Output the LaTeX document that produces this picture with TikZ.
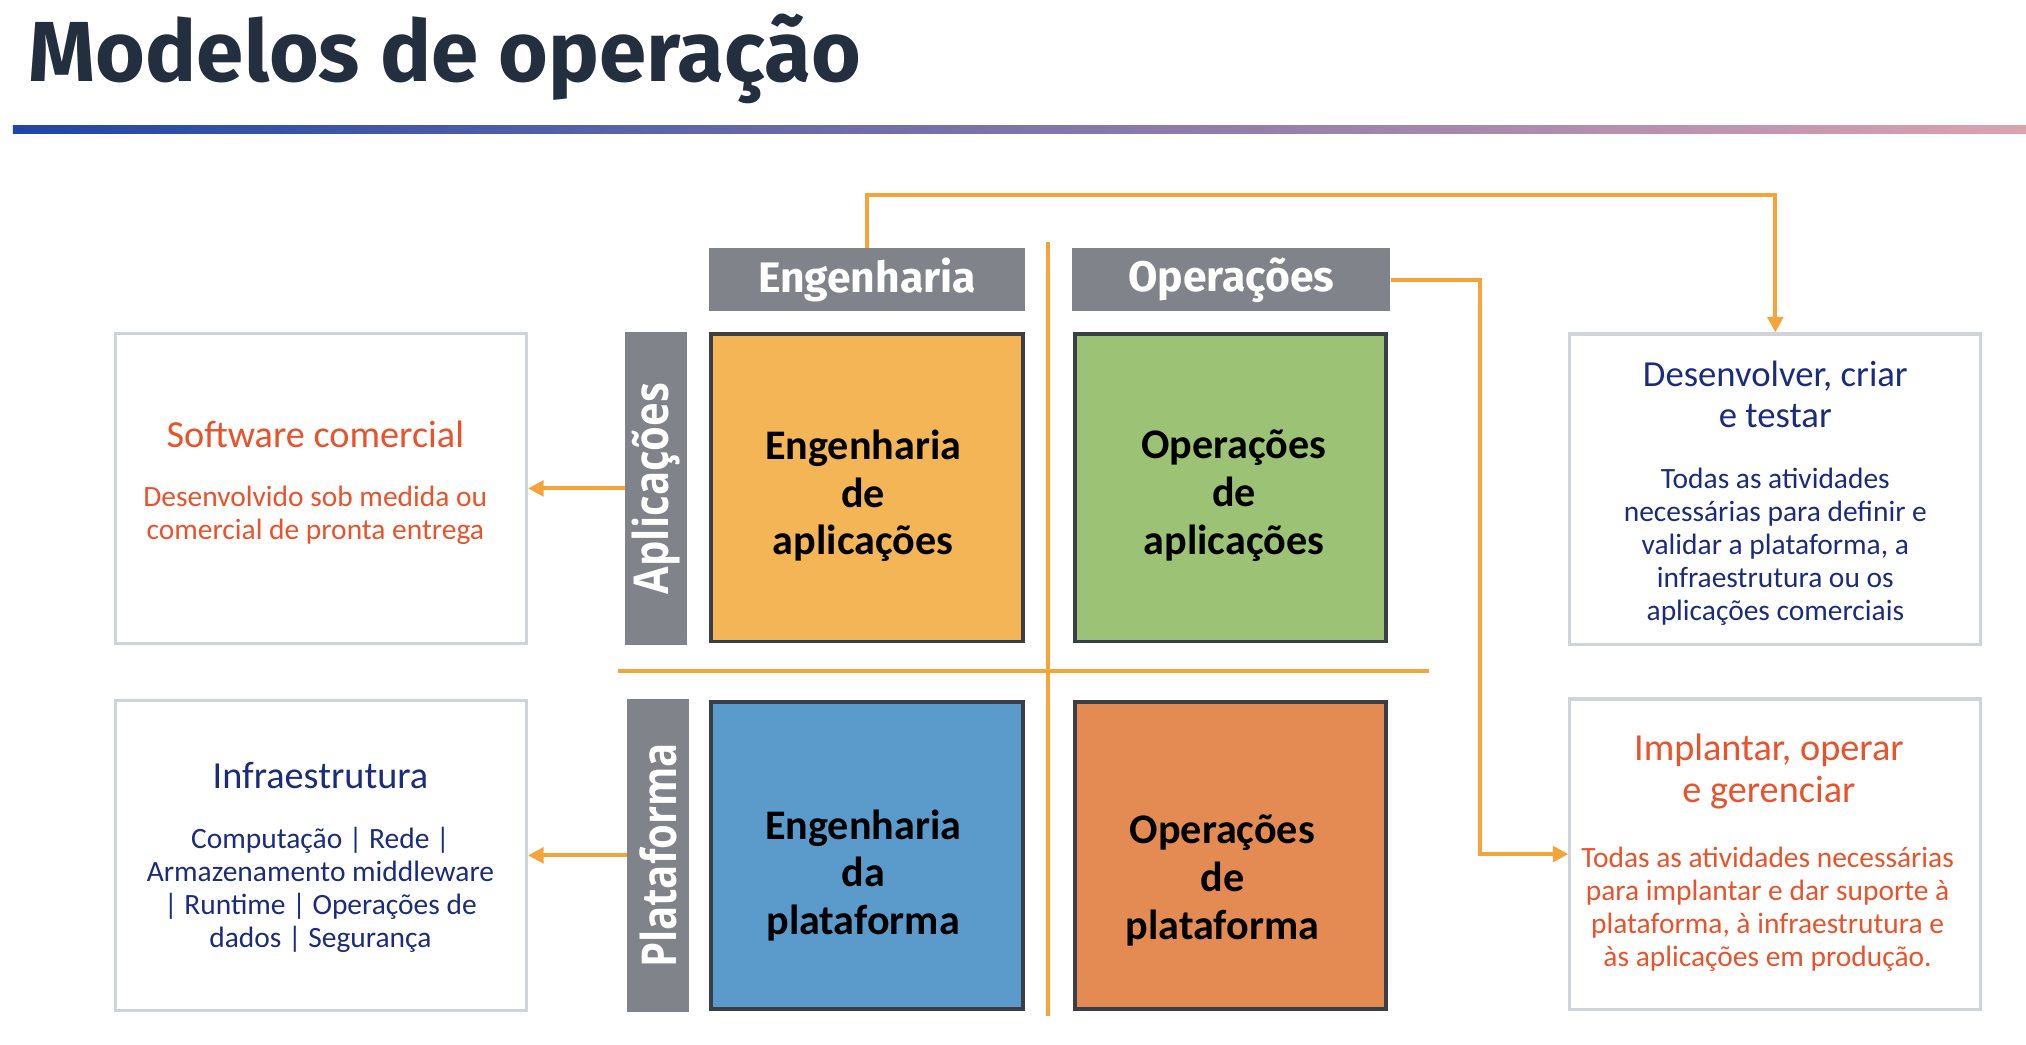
\documentclass[tikz,border=0pt]{standalone}
\usepackage{fontspec}
\setmainfont{Carlito}
\newfontfamily\titlefont{Fira Sans}
\newfontfamily\barfont{Open Sans}
\usetikzlibrary{arrows.meta}
\definecolor{op_navy}{RGB}{35,47,62}
\definecolor{op_gray}{RGB}{128,131,138}
\definecolor{op_edge}{RGB}{58,63,71}
\definecolor{op_yellow}{RGB}{244,181,87}
\definecolor{op_green}{RGB}{156,195,117}
\definecolor{op_blue}{RGB}{91,155,203}
\definecolor{op_orange}{RGB}{227,139,83}
\definecolor{op_line}{RGB}{245,164,58}
\definecolor{op_red}{RGB}{233,83,43}
\definecolor{op_text}{RGB}{27,44,125}
\definecolor{op_box}{RGB}{208,211,215}
\definecolor{op_gl}{RGB}{31,71,165}
\definecolor{op_gm}{RGB}{90,120,204}
\definecolor{op_gr}{RGB}{220,162,176}
\tikzstyle{hd}=[rectangle,fill=op_gray,text=white,font=\titlefont\bfseries\fontsize{16.5}{19}\selectfont,
  minimum width=122pt,minimum height=24.5pt,inner sep=0pt]
\tikzstyle{sq}=[rectangle,draw=op_edge,line width=1.5pt,minimum width=120.5pt,minimum height=119pt,inner sep=0pt]
\tikzstyle{sl}=[align=center,inner sep=0pt,text depth=-2.4pt,font=\bfseries\fontsize{16.3}{18.5}\selectfont]
\tikzstyle{vb}=[rectangle,fill=op_gray,text=white,rotate=90,font=\barfont\bfseries\fontsize{15.5}{18}\selectfont,
  minimum width=121pt,minimum height=24pt,inner sep=0pt]
\tikzstyle{tb}=[rectangle,draw=op_box,line width=1.2pt,fill=white,minimum width=159pt,minimum height=120pt,inner sep=0pt]
\tikzstyle{tt}=[align=center,inner sep=0pt,font=\fontsize{14.8}{16}\selectfont]
\tikzstyle{td}=[align=center,inner sep=0pt,font=\fontsize{11.4}{12.8}\selectfont]
\tikzstyle{sep}=[draw=op_line,line width=1.5pt]
\tikzstyle{arr}=[draw=op_line,line width=1.5pt,-{Triangle[length=6pt,width=6pt]}]

\begin{document}
\begin{tikzpicture}[x=0.5pt,y=-0.5pt]
        \path [use as bounding box,fill=white] (0,0) rectangle (1568,808);
        \node [anchor=base west,inner sep=0pt,text=op_navy,font=\titlefont\bfseries\fontsize{33}{40}\selectfont] (title) at (22,63) {Modelos de operação};
        \shade [left color=op_gl,middle color=op_gm,right color=op_gr] (10,97.5) rectangle (1568,103.5);
        \coordinate (dtop) at (811,187);
        \coordinate (dbot) at (811,786);
        \coordinate (dl) at (478,519);
        \coordinate (dr) at (1106,519);
        \draw [style=sep] (dtop) to (dbot);
        \draw [style=sep] (dl) to (dr);
        \node [style=hd] (eng) at (671,216.5) {Engenharia};
        \node [style=hd,minimum width=123pt] (ops) at (953,216.5) {Operações};
        \node [style=sq,fill=op_yellow] (ea) at (671,377.5) {};
        \node [style=sq,fill=op_green] (oa) at (952.5,377.5) {};
        \node [style=sq,fill=op_blue] (ep) at (671,662) {};
        \node [style=sq,fill=op_orange] (op) at (952.5,662) {};
        \node [style=sl] (eat) at (668,381) {Engenharia\\de\\aplicações};
        \node [style=sl] (oat) at (955,381) {Operações\\de\\aplicações};
        \node [style=sl] (ept) at (668,675) {Engenharia\\da\\plataforma};
        \node [style=sl] (opt) at (946,679) {Operações\\de\\plataforma};
        \node [style=vb] (apl) at (508,378) {\scalebox{1}[1.2]{Aplicações}};
        \node [style=vb] (plat) at (509.5,662) {\scalebox{1}[1.2]{Plataforma}};
        \node [style=tb] (sw) at (248.5,378) {};
        \node [style=tb] (inf) at (248.5,662) {};
        \node [style=tb] (dev) at (1374,378.5) {};
        \node [style=tb] (imp) at (1374,661) {};
        \node [style=tt,text=op_red] (swt) at (244,336) {Software comercial};
        \node [style=td,text=op_red] (swd) at (244,399) {Desenvolvido sob medida ou\\comercial de pronta entrega};
        \node [style=tt,text=op_text] (inft) at (248,600) {Infraestrutura};
        \node [style=td,text=op_text] (infd) at (248,688.5) {Computação | Rede |\\Armazenamento middleware\\| Runtime | Operações de\\dados | Segurança};
        \node [style=tt,text=op_text,font=\fontsize{14.2}{16}\selectfont] (devt) at (1374,305) {Desenvolver, criar\\e testar};
        \node [style=td,text=op_text] (devd) at (1374,423) {Todas as atividades\\necessárias para definir e\\validar a plataforma, a\\infraestrutura ou os\\aplicações comerciais};
        \node [style=tt,text=op_red] (impt) at (1369,597) {Implantar, operar\\e gerenciar};
        \node [style=td,text=op_red] (impd) at (1368,703.5) {Todas as atividades necessárias\\para implantar e dar suporte à\\plataforma, à infraestrutura e\\às aplicações em produção.};
        \draw [style=arr] (eng.north) -- ++(0,-41) -| (dev.north);
        \draw [style=arr] (ops.east) -- ++(69,0) |- (imp.west);
        \draw [style=arr] (apl) to (sw);
        \draw [style=arr] (plat) to (inf);
    \end{tikzpicture}
\end{document}
